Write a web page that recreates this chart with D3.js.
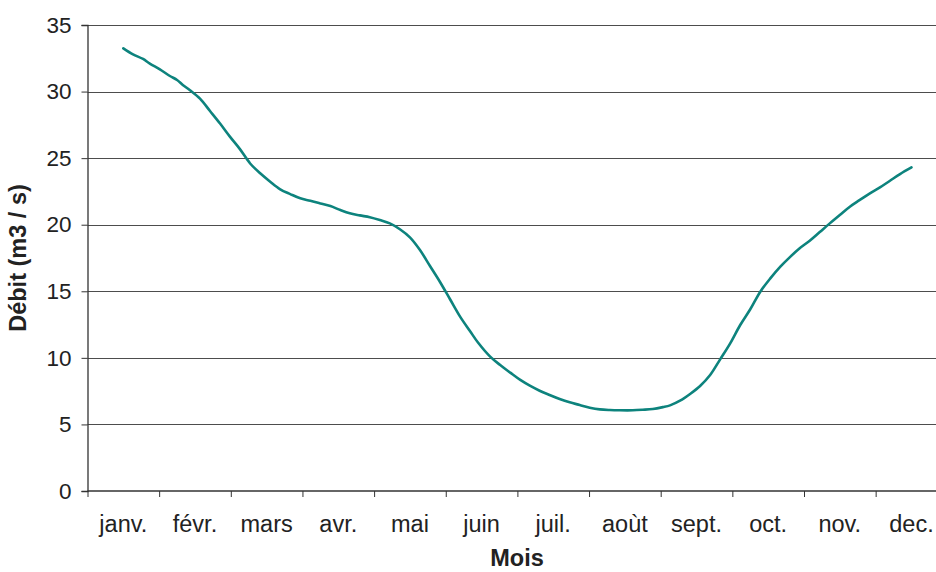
<!DOCTYPE html>
<html>
<head>
<meta charset="utf-8">
<script src="https://cdn.jsdelivr.net/npm/d3@7"></script>
<style>
  html, body { margin: 0; padding: 0; background: #fff; }
  svg { display: block; }
  text { font-family: "Liberation Sans", Arial, sans-serif; fill: #222; }
</style>
</head>
<body>
<svg id="chart" width="936" height="572"></svg>
<script>
// Month category labels
const months = ["janv.", "févr.", "mars", "avr.", "mai", "juin", "juil.", "aoùt", "sept.", "oct.", "nov.", "dec."];
// Y tick values
const yTicks = [0, 5, 10, 15, 20, 25, 30, 35];
// Position along the year in months (0 = middle of janv., 11 = middle of dec.)
const monthPos = [0, 0.135, 0.275, 0.37, 0.51, 0.65, 0.75, 0.83, 0.93, 1.07, 1.21, 1.35, 1.49, 1.63, 1.77, 1.91,
  2.05, 2.19, 2.33, 2.47, 2.61, 2.75, 2.89, 3.03, 3.16, 3.30, 3.44, 3.58, 3.72, 3.86, 4.00, 4.14, 4.28, 4.42,
  4.56, 4.70, 4.84, 4.95, 5.12, 5.26, 5.40, 5.54, 5.68, 5.81, 5.95, 6.09, 6.23, 6.37, 6.51, 6.65, 6.79,
  6.93, 7.11, 7.25, 7.39, 7.53, 7.63, 7.77, 7.91, 8.05, 8.19, 8.33, 8.47, 8.61, 8.75, 8.89, 9.03, 9.17, 9.30,
  9.44, 9.58, 9.72, 9.86, 10.00, 10.14, 10.28, 10.42, 10.56, 10.70, 10.84, 11.0];
// Débit (m3/s)
const debit = [33.25, 32.8, 32.45, 32.1, 31.67, 31.17, 30.87, 30.5, 30.1, 29.47, 28.54, 27.6, 26.6, 25.66, 24.6, 23.86,
  23.23, 22.66, 22.3, 21.98, 21.8, 21.6, 21.4, 21.1, 20.86, 20.7, 20.56, 20.35, 20.1, 19.66, 19.05, 18.1, 16.9, 15.7,
  14.4, 13.1, 12.0, 11.15, 10.09, 9.46, 8.89, 8.34, 7.89, 7.53, 7.21, 6.91, 6.66, 6.46, 6.26, 6.13, 6.08,
  6.06, 6.06, 6.1, 6.16, 6.3, 6.43, 6.78, 7.29, 7.89, 8.71, 9.89, 11.09, 12.47, 13.65, 14.97, 15.97, 16.85, 17.55,
  18.23, 18.8, 19.45, 20.1, 20.73, 21.35, 21.86, 22.36, 22.8, 23.3, 23.8, 24.3];

const svg = d3.select("#chart");
const mLeft = 87.5, mTop = 25, mBottom = 491;
const mRight = mLeft + 12 * 71.65;

const xBand = d3.scaleBand().domain(months).range([mLeft, mRight]).paddingInner(0).paddingOuter(0);
const xPos = d3.scaleLinear().domain([-0.5, 11.5]).range([mLeft, mRight]);
const y = d3.scaleLinear().domain([0, 35]).range([mBottom, mTop]);

// Gridlines
svg.append("g")
  .selectAll("line").data(yTicks.filter(d => d > 0)).join("line")
  .attr("x1", mLeft).attr("x2", mRight)
  .attr("y1", d => Math.round(y(d)) + 0.5).attr("y2", d => Math.round(y(d)) + 0.5)
  .attr("stroke", "#4d4d4d").attr("stroke-width", 1);

// Y axis
const yAxis = svg.append("g").attr("transform", `translate(${mLeft},0)`)
  .call(d3.axisLeft(y).tickValues(yTicks).tickSize(6).tickPadding(10));
yAxis.select(".domain").attr("stroke", "#333").attr("stroke-width", 1.3);
yAxis.selectAll(".tick line").attr("stroke", "#333");
yAxis.selectAll(".tick text").attr("font-size", 22.5).attr("fill", "#222")
  .attr("font-family", "'Liberation Sans', Arial, sans-serif");

// X axis (ticks between categories)
const xAxisG = svg.append("g").attr("transform", `translate(0,${mBottom})`);
xAxisG.append("line").attr("x1", mLeft).attr("x2", mRight).attr("y1", 0).attr("y2", 0)
  .attr("stroke", "#333").attr("stroke-width", 1.3);
xAxisG.selectAll("line.tk").data(months).join("line").attr("class", "tk")
  .attr("x1", d => xBand(d) + 0.5).attr("x2", d => xBand(d) + 0.5)
  .attr("y1", 0).attr("y2", 6).attr("stroke", "#333");
xAxisG.selectAll("text").data(months).join("text")
  .attr("x", d => xBand(d) + xBand.bandwidth() / 2)
  .attr("y", 41)
  .attr("text-anchor", "middle").attr("font-size", 23.5)
  .text(d => d);

// Line
const pts = monthPos.map((m, i) => [m, debit[i]]);
svg.append("path").datum(pts)
  .attr("fill", "none").attr("stroke", "#0d837d").attr("stroke-width", 2.6)
  .attr("stroke-linejoin", "round").attr("stroke-linecap", "round")
  .attr("d", d3.line().x(d => xPos(d[0])).y(d => y(d[1])).curve(d3.curveCatmullRom.alpha(0.5)));

// Axis titles
svg.append("text").attr("x", 517).attr("y", 566).attr("text-anchor", "middle")
  .attr("font-size", 23.5).attr("font-weight", "bold").text("Mois");
svg.append("text").attr("transform", `translate(26,${(mTop + mBottom) / 2}) rotate(-90)`)
  .attr("text-anchor", "middle").attr("font-size", 23.5).attr("font-weight", "bold").text("Débit (m3 / s)");
</script>
</body>
</html>
